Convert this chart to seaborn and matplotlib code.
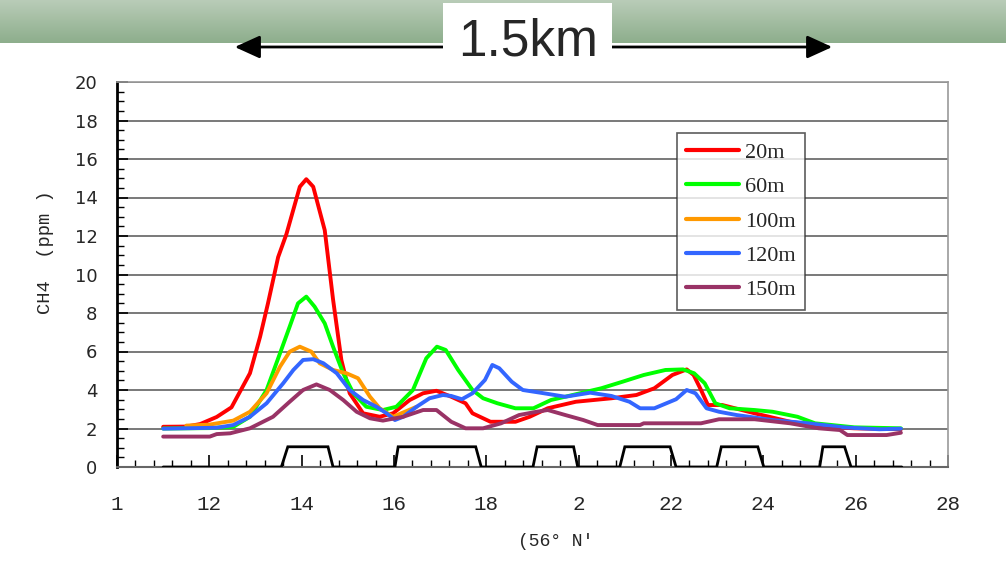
import numpy as np
import pandas as pd
import matplotlib
matplotlib.use("Agg")
import matplotlib.pyplot as plt
import seaborn as sns
from matplotlib.patches import Rectangle, FancyArrowPatch
from matplotlib.lines import Line2D
from matplotlib.ticker import MultipleLocator, FixedLocator

# ---------------- data ----------------
series_names = ["20m", "60m", "100m", "120m", "150m"]
series_colors = ["#ff0000", "#00ff00", "#ff9900", "#3366ff", "#993366"]

x_20m = [11.0, 11.5, 11.8, 12.16, 12.48, 12.88, 13.1, 13.27, 13.49, 13.67, 13.96, 14.1, 14.25, 14.5, 14.68,
         14.86, 15.04, 15.33, 15.69, 15.98, 16.34, 16.63, 16.92, 17.24, 17.55, 17.70, 18.09, 18.63, 18.94,
         19.33, 19.94, 20.71, 21.25, 21.64, 22.03, 22.34, 22.49, 22.65, 22.8, 23.11, 23.81, 24.58, 25.35,
         25.97, 26.98]
y_20m = [2.09, 2.1, 2.23, 2.6, 3.1, 4.87, 6.77, 8.5, 10.9, 12.1, 14.56, 14.95, 14.56, 12.3, 8.7,
         5.56, 3.83, 2.79, 2.61, 2.79, 3.48, 3.83, 3.96, 3.65, 3.31, 2.79, 2.35, 2.35, 2.61,
         3.05, 3.39, 3.57, 3.74, 4.09, 4.78, 5.07, 4.78, 4.0, 3.22, 3.22, 2.79, 2.35, 2.09,
         2.01, 1.96]

x_60m = [11.0, 12.0, 12.52, 12.88, 13.24, 13.53, 13.74, 13.92, 14.1, 14.28, 14.5, 14.68, 14.9, 15.12,
         15.4, 15.76, 16.05, 16.41, 16.7, 16.93, 17.12, 17.39, 17.7, 17.93, 18.24, 18.63, 19.02, 19.4,
         19.87, 20.49, 20.95, 21.41, 21.88, 22.26, 22.5, 22.73, 22.96, 23.27, 23.81, 24.2, 24.74, 25.12,
         25.97, 26.98]
y_60m = [2.0, 2.02, 2.09, 2.61, 4.0, 5.9, 7.29, 8.5, 8.85, 8.33, 7.46, 6.25, 4.87, 3.83,
         3.13, 2.96, 3.13, 4.0, 5.65, 6.25, 6.08, 5.04, 4.0, 3.57, 3.31, 3.05, 3.05, 3.48,
         3.74, 4.09, 4.43, 4.78, 5.04, 5.07, 4.87, 4.35, 3.31, 3.05, 2.96, 2.87, 2.61, 2.27,
         2.06, 2.01]

x_100m = [11.5, 12.0, 12.52, 12.88, 13.24, 13.53, 13.74, 13.96, 14.21, 14.39, 14.68, 14.97, 15.22,
          15.48, 15.69, 15.98, 16.49]
y_100m = [2.15, 2.2, 2.41, 2.87, 3.83, 5.21, 5.99, 6.25, 5.99, 5.39, 5.04, 4.87, 4.61,
          3.65, 3.05, 2.61, 3.13]

x_120m = [11.0, 12.16, 12.52, 12.88, 13.24, 13.6, 13.82, 14.03, 14.25, 14.47, 14.76, 15.04, 15.33,
          15.62, 15.84, 16.02, 16.2, 16.49, 16.77, 17.06, 17.24, 17.47, 17.7, 17.97, 18.13, 18.28,
          18.55, 18.79, 19.17, 19.71, 20.25, 20.71, 21.1, 21.33, 21.64, 22.11, 22.34, 22.53, 22.77,
          23.04, 23.42, 24.2, 24.97, 25.74, 26.51, 26.98]
y_120m = [1.99, 2.04, 2.18, 2.61, 3.31, 4.35, 5.04, 5.56, 5.6, 5.39, 4.87, 4.0, 3.48,
          3.13, 2.79, 2.44, 2.61, 3.13, 3.57, 3.74, 3.69, 3.52, 3.83, 4.52, 5.3, 5.13,
          4.43, 4.0, 3.86, 3.65, 3.86, 3.69, 3.39, 3.05, 3.05, 3.52, 4.0, 3.83, 3.05,
          2.87, 2.7, 2.44, 2.27, 2.06, 1.96, 1.99]

x_150m = [11.0, 12.01, 12.16, 12.45, 12.88, 13.38, 13.74, 14.03, 14.32, 14.61, 14.9, 15.19, 15.48,
          15.76, 16.2, 16.63, 16.92, 17.24, 17.55, 17.93, 18.32, 18.71, 19.09, 19.33, 19.71, 20.1,
          20.41, 21.33, 21.41, 22.65, 23.04, 23.81, 24.58, 25.2, 25.66, 25.82, 26.67, 26.98]
y_150m = [1.58, 1.58, 1.71, 1.75, 2.01, 2.61, 3.39, 4.0, 4.29, 4.0, 3.48, 2.87, 2.53,
          2.41, 2.61, 2.96, 2.96, 2.35, 2.01, 2.01, 2.27, 2.7, 2.87, 2.96, 2.7, 2.44,
          2.18, 2.18, 2.27, 2.27, 2.48, 2.48, 2.27, 2.01, 1.92, 1.66, 1.66, 1.78]

gate_x = [11.0, 13.56, 13.70, 14.57, 14.68, 16.02, 16.09, 17.77, 17.89, 19.01, 19.10, 19.89, 19.98,
          20.89, 21.0, 21.98, 22.11, 22.99, 23.09, 23.88, 24.01, 25.22, 25.29, 25.76, 25.90, 27.0]
gate_y = [0, 0, 1.05, 1.05, 0, 0, 1.05, 1.05, 0, 0, 1.05, 1.05, 0,
          0, 1.05, 1.05, 0, 0, 1.05, 1.05, 0, 0, 1.05, 1.05, 0, 0]

x_tick_values = [10, 12, 14, 16, 18, 20, 22, 24, 26, 28]
x_tick_labels = ["1", "12", "14", "16", "18", "2", "22", "24", "26", "28"]
y_tick_values = [0, 2, 4, 6, 8, 10, 12, 14, 16, 18, 20]

title_text = "1.5km"
x_label = "(56° N'"
y_label = "CH4  (ppm )"

# ---------------- frame ----------------
rows = []
for name, xs, ys in [("20m", x_20m, y_20m), ("60m", x_60m, y_60m), ("100m", x_100m, y_100m),
                     ("120m", x_120m, y_120m), ("150m", x_150m, y_150m)]:
    for a, b in zip(xs, ys):
        rows.append((name, a, b))
df = pd.DataFrame(rows, columns=["depth", "lat", "ch4"])

sns.set_style("white")
W, H = 1006, 582
fig = plt.figure(figsize=(W / 100, H / 100), dpi=100)
fig.patch.set_facecolor("white")

def fx(px):
    return px / W

def fy(py):
    return 1 - py / H

# banner gradient
bax = fig.add_axes([0, fy(43), 1, 43 / H])
top = np.array([0.725, 0.800, 0.720])
bot = np.array([0.553, 0.682, 0.549])
t = np.linspace(0, 1, 64)[:, None]
grad = (top[None, :] * (1 - t) + bot[None, :] * t)[:, None, :]
bax.imshow(np.repeat(grad, 4, axis=1), aspect="auto", extent=[0, 1, 0, 1])
bax.set_axis_off()

# arrow, box, text
arr = FancyArrowPatch((fx(232), fy(47)), (fx(835), fy(47)), transform=fig.transFigure,
                      arrowstyle="<|-|>,head_length=1.1,head_width=0.5", mutation_scale=14,
                      color="black", lw=2.0)
fig.add_artist(arr)
fig.add_artist(Rectangle((fx(443), fy(75)), fx(612) - fx(443), fy(3) - fy(75),
                         transform=fig.transFigure, facecolor="white", edgecolor="none", zorder=5))
fig.text(fx(528), fy(42), title_text, ha="center", va="center", fontsize=37,
         family=["Liberation Sans Narrow", "Liberation Sans"], zorder=6)

# main axes
ax = fig.add_axes([fx(117), fy(467), fx(948) - fx(117), (467 - 82) / H])
palette = dict(zip(series_names, series_colors))
sns.lineplot(data=df, x="lat", y="ch4", hue="depth", hue_order=series_names, palette=palette,
             estimator=None, sort=False, linewidth=2.8, ax=ax, legend=False, zorder=3)
ax.plot(gate_x, gate_y, color="black", lw=2.0, zorder=4, solid_joinstyle="miter")

ax.set_xlim(10, 28)
ax.set_ylim(0, 20)
ax.xaxis.set_major_locator(FixedLocator(x_tick_values))
ax.set_xticklabels(x_tick_labels, family="Liberation Mono", fontsize=15)
ax.xaxis.set_minor_locator(MultipleLocator(0.4))
ax.yaxis.set_major_locator(FixedLocator(y_tick_values))
ax.set_yticklabels([str(v) for v in y_tick_values], family="DejaVu Sans", fontsize=13)
ax.yaxis.set_minor_locator(MultipleLocator(0.5))
ax.tick_params(axis="x", which="both", bottom=True, top=False)
ax.tick_params(axis="y", which="both", left=True, right=False)
ax.tick_params(axis="x", which="major", direction="in", length=9, width=1.2, pad=20, color="black")
ax.tick_params(axis="x", which="minor", direction="in", length=5, width=1.0, color="black")
ax.tick_params(axis="y", which="major", direction="in", length=8, width=1.2, pad=14, color="black")
ax.tick_params(axis="y", which="minor", direction="in", length=5, width=1.0, color="black")
ax.grid(axis="y", which="major", color="#555555", lw=1.1, zorder=1)
ax.grid(axis="x", visible=False)
ax.set_axisbelow(True)
for side in ["top", "right"]:
    ax.spines[side].set_color("#999999")
    ax.spines[side].set_linewidth(1.2)
ax.spines["left"].set_color("black")
ax.spines["left"].set_linewidth(2.0)
ax.spines["bottom"].set_color("#666666")
ax.spines["bottom"].set_linewidth(1.5)
ax.set_xlabel("")
ax.set_ylabel("")

fig.text(fx(556), fy(541), x_label, ha="center", va="center", fontsize=13, family="Liberation Mono")
fig.text(fx(45), fy(252), y_label, ha="center", va="center", fontsize=13.5, family="Liberation Mono",
         rotation=90)

# legend
handles = [Line2D([0], [0], color=c, lw=3.0) for c in series_colors]
leg = ax.legend(handles, series_names, loc="upper left",
                bbox_to_anchor=(fx(677), fy(133)), bbox_transform=fig.transFigure,
                borderaxespad=0, frameon=True, fancybox=False, edgecolor="#333333",
                prop={"family": "Liberation Serif", "size": 16}, handlelength=2.35,
                handletextpad=0.3, labelspacing=0.62, borderpad=0.42)
leg.get_frame().set_linewidth(1.2)
leg.set_zorder(10)

fig.savefig("out.png", dpi=100, facecolor="white")
